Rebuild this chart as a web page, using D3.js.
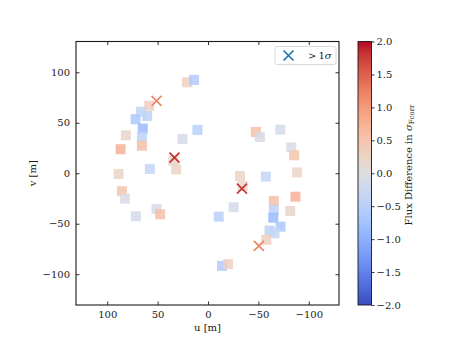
<!DOCTYPE html>
<html>
<head>
<meta charset="utf-8">
<script src="https://cdn.jsdelivr.net/npm/d3@7"></script>
<style>
body { margin: 0; background: #fff; }
text { font-family: "DejaVu Serif", serif; fill: #1a1a1a; }
</style>
</head>
<body>
<div id="chart"></div>
<script>
// squares: baselines below 1 sigma
var squareU = [20.8, 13.9, 58.4, 66.6, 60.4, 71.9, 64.7, 65.6, 81.5, 86.7, 65.6, 25.3, 10.5, 34.4, 31.7, 57.7, 88.7,
    85.4, 82.5, 71.6, 51.1, 47.5,
    -47.5, -51.5, -71.7, -82.6, -85.5, -88.5, -31.7, -57.4, -34.4, -86.8, -81.6, -65.3, -65.3, -64.8, -72.0, -61.1, -66.0,
    -57.8, -25.4, -10.6, -13.9, -19.8];
var squareV = [90.1, 92.4, 66.9, 61.0, 56.7, 53.5, 44.2, 36.2, 37.6, 23.8, 27.3, 34.0, 42.9, 12.6, 3.8, 4.3, -0.7,
    -17.8, -25.1, -42.6, -35.3, -40.6,
    40.9, 35.9, 43.2, 25.7, 17.8, 0.8, -2.7, -3.4, -12.6, -23.2, -37.3, -27.4, -36.3, -44.0, -52.9, -56.8, -59.4,
    -66.0, -33.7, -43.0, -91.8, -90.1];
var squareFlux = [0.3, -0.6, 0.3, -0.35, -0.45, -0.65, -0.85, -0.45, 0.2, 0.75, 0.55, -0.15, -0.5, 0.2, 0.25, -0.35, 0.25,
    0.5, -0.1, -0.15, -0.1, 0.55,
    0.55, -0.1, -0.15, -0.1, 0.5, 0.25, 0.25, -0.35, 0.2, 0.75, 0.2, 0.55, -0.45, -0.85, -0.65, -0.45, -0.35,
    0.3, -0.15, -0.5, -0.6, 0.3];

// crosses: baselines above 1 sigma
var crossU = [51.1, 33.3, -33.7, -50.5];
var crossV = [71.6, 15.4, -15.2, -72.0];
var crossFlux = [1.2, 1.8, 1.8, 1.2];

var uTicks = [100, 50, 0, -50, -100];
var vTicks = [100, 50, 0, -50, -100];
var cbarTicks = [-2.0, -1.5, -1.0, -0.5, 0.0, 0.5, 1.0, 1.5, 2.0];

// matplotlib coolwarm
var coolwarmStops = [[59,76,192],[68,90,204],[77,104,215],[87,117,225],[98,130,234],[108,142,241],[119,154,247],
    [130,165,251],[141,176,254],[152,185,255],[163,194,255],[174,201,253],[184,208,249],[194,213,244],[204,217,238],
    [213,219,230],[221,221,221],[229,216,209],[236,211,197],[241,204,185],[245,196,173],[247,187,160],[247,177,148],
    [247,166,135],[244,154,123],[241,141,111],[236,127,99],[229,112,88],[222,96,77],[213,80,66],[203,62,56],
    [192,40,47],[180,4,38]];

var svgWidth = 457, svgHeight = 343;
var plot = {left: 76, top: 41.5, right: 339, bottom: 305};
var cbar = {left: 358, right: 371.5};

var coolwarm = d3.scaleLinear()
    .domain(coolwarmStops.map(function (d, i) { return -2 + 4 * i / (coolwarmStops.length - 1); }))
    .range(coolwarmStops.map(function (d) { return d3.rgb(d[0], d[1], d[2]); }))
    .interpolate(d3.interpolateRgb)
    .clamp(true);

var xScale = d3.scaleLinear().domain([131, -130]).range([plot.left, plot.right]);
var yScale = d3.scaleLinear().domain([130.5, -130.5]).range([plot.top, plot.bottom]);
var cScale = d3.scaleLinear().domain([-2, 2]).range([plot.bottom, plot.top]);

var svg = d3.select("#chart").append("svg")
    .attr("width", svgWidth)
    .attr("height", svgHeight);

function fmt(d) {
    return d3.format("d")(d).replace("-", "\u2212");
}

// squares
svg.append("g").selectAll("rect")
    .data(squareU.map(function (u, i) { return {u: u, v: squareV[i], f: squareFlux[i]}; }))
    .enter().append("rect")
    .attr("x", function (d) { return xScale(d.u) - 5; })
    .attr("y", function (d) { return yScale(d.v) - 5; })
    .attr("width", 10)
    .attr("height", 10)
    .style("fill", function (d) { return coolwarm(d.f); })
    .style("opacity", 0.85);

// crosses
function crossPath(x, y, r) {
    return "M" + (x - r) + "," + (y - r) + "L" + (x + r) + "," + (y + r) +
        "M" + (x - r) + "," + (y + r) + "L" + (x + r) + "," + (y - r);
}

svg.append("g").selectAll("path")
    .data(crossU.map(function (u, i) { return {u: u, v: crossV[i], f: crossFlux[i]}; }))
    .enter().append("path")
    .attr("d", function (d) { return crossPath(xScale(d.u), yScale(d.v), 5); })
    .style("fill", "none")
    .style("stroke", function (d) { return coolwarm(d.f); })
    .style("stroke-width", 1.7);

// axes, ticks inward on all sides
var tickLen = 3.5;
var xAxisB = d3.axisBottom(xScale).tickValues(uTicks).tickSizeInner(-tickLen).tickSizeOuter(0).tickPadding(6).tickFormat(fmt);
var xAxisT = d3.axisTop(xScale).tickValues(uTicks).tickSizeInner(-tickLen).tickSizeOuter(0).tickFormat("");
var yAxisL = d3.axisLeft(yScale).tickValues(vTicks).tickSizeInner(-tickLen).tickSizeOuter(0).tickPadding(6).tickFormat(fmt);
var yAxisR = d3.axisRight(yScale).tickValues(vTicks).tickSizeInner(-tickLen).tickSizeOuter(0).tickFormat("");

function styleAxis(g) {
    g.select(".domain").remove();
    g.selectAll("line").style("stroke", "#1a1a1a").style("stroke-width", 0.9);
    g.selectAll("text").style("font-family", "DejaVu Serif").style("font-size", "10px").style("fill", "#1a1a1a");
}

svg.append("g").attr("transform", "translate(0," + plot.bottom + ")").call(xAxisB).call(styleAxis);
svg.append("g").attr("transform", "translate(0," + plot.top + ")").call(xAxisT).call(styleAxis);
svg.append("g").attr("transform", "translate(" + plot.left + ",0)").call(yAxisL).call(styleAxis);
svg.append("g").attr("transform", "translate(" + plot.right + ",0)").call(yAxisR).call(styleAxis);

svg.append("rect")
    .attr("x", plot.left).attr("y", plot.top)
    .attr("width", plot.right - plot.left).attr("height", plot.bottom - plot.top)
    .style("fill", "none").style("stroke", "#1a1a1a").style("stroke-width", 1.1);

svg.append("text")
    .attr("x", (plot.left + plot.right) / 2).attr("y", 331)
    .attr("text-anchor", "middle").style("font-size", "10px")
    .text("u [m]");

svg.append("text")
    .attr("transform", "translate(36," + ((plot.top + plot.bottom) / 2) + ") rotate(-90)")
    .attr("text-anchor", "middle").style("font-size", "10px")
    .text("v [m]");

// legend
var legend = svg.append("g");
legend.append("rect")
    .attr("x", 275).attr("y", 46.5).attr("width", 61).attr("height", 18).attr("rx", 2)
    .style("fill", "#fff").style("fill-opacity", 0.8).style("stroke", "#d6d6d6").style("stroke-width", 0.9);
legend.append("path")
    .attr("d", crossPath(288.5, 55.5, 5))
    .style("fill", "none").style("stroke", "#1f77b4").style("stroke-width", 1.7);
var legText = legend.append("text").attr("x", 308).attr("y", 59).style("font-size", "10px");
legText.append("tspan").text(">\u20091");
legText.append("tspan").style("font-style", "italic").text("\u03c3");

// colorbar
var defs = svg.append("defs");
var grad = defs.append("linearGradient").attr("id", "cw")
    .attr("x1", "0").attr("y1", "1").attr("x2", "0").attr("y2", "0");
grad.selectAll("stop")
    .data(coolwarmStops)
    .enter().append("stop")
    .attr("offset", function (d, i) { return i / (coolwarmStops.length - 1); })
    .attr("stop-color", function (d) { return d3.rgb(d[0], d[1], d[2]); });

svg.append("rect")
    .attr("x", cbar.left).attr("y", cScale(2))
    .attr("width", cbar.right - cbar.left).attr("height", cScale(-2) - cScale(2))
    .style("fill", "url(#cw)").style("stroke", "#1a1a1a").style("stroke-width", 0.9);

var cAxis = d3.axisRight(cScale).tickValues(cbarTicks).tickSize(3).tickPadding(2)
    .tickFormat(function (d) { return d3.format(".1f")(d).replace("-", "\u2212"); });
svg.append("g").attr("transform", "translate(" + cbar.right + ",0)").call(cAxis).call(styleAxis);

var cLabel = svg.append("text")
    .attr("transform", "translate(412," + 165 + ") rotate(-90)")
    .attr("text-anchor", "middle").style("font-size", "10px");
cLabel.append("tspan").text("Flux Difference in ");
cLabel.append("tspan").style("font-style", "italic").text("\u03c3");
cLabel.append("tspan").attr("dy", 2).style("font-size", "7px").text("Fcorr");
</script>
</body>
</html>
